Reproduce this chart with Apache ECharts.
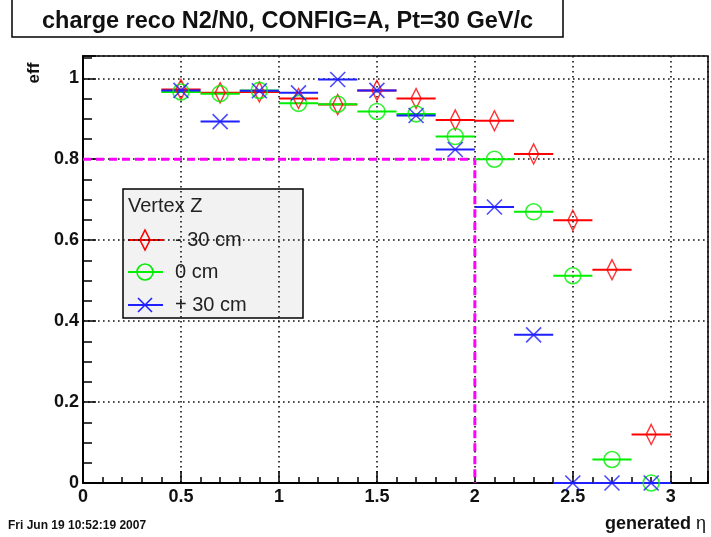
<!DOCTYPE html>
<html>
<head>
<meta charset="utf-8">
<script src="https://cdn.jsdelivr.net/npm/echarts@6/dist/echarts.min.js"></script>
<style>
  html, body { margin: 0; padding: 0; background: #fff; }
  #chart { width: 711px; height: 537px; }
</style>
</head>
<body>
<div id="chart"></div>
<script>
// bin centres in generated eta, bins are 0.2 wide
const etaBins = [0.5, 0.7, 0.9, 1.1, 1.3, 1.5, 1.7, 1.9, 2.1, 2.3, 2.5, 2.7, 2.9];
const binHalfWidth = 0.1;

// efficiency per vertex z position
const effMinus30 = [0.972, 0.964, 0.966, 0.950, 0.935, 0.970, 0.950, 0.897, 0.895, 0.813, 0.649, 0.527, 0.120];
const effZero    = [0.966, 0.962, 0.970, 0.938, 0.936, 0.918, 0.912, 0.856, 0.800, 0.670, 0.512, 0.058, 0.000];
const effPlus30  = [0.970, 0.893, 0.969, 0.964, 0.997, 0.970, 0.908, 0.824, 0.682, 0.366, 0.000, 0.000, 0.000];

// reference cut lines (eff = 0.8 up to eta = 2)
const cutLine = [[0, 0.8], [2, 0.8], [2, 0]];

const xTicks = [0, 0.5, 1, 1.5, 2, 2.5, 3];
const yTicks = [0, 0.2, 0.4, 0.6, 0.8, 1];

const RED = '#ff0000', GREEN = '#00ee00', BLUE = '#1f1fff';
const FONT = '"Liberation Sans", Arial, Helvetica, sans-serif';

function pairs(values) {
    return etaBins.map(function (x, i) { return [x, values[i]]; });
}

function isTick(list, v) {
    return list.some(function (t) { return Math.abs(t - v) < 1e-6; });
}

function errorBars(name, values, color) {
    return {
        name: name,
        type: 'custom',
        clip: false,
        z: 3,
        data: pairs(values),
        renderItem: function (params, api) {
            const x = api.value(0), y = api.value(1);
            const a = api.coord([x - binHalfWidth, y]);
            const b = api.coord([x + binHalfWidth, y]);
            return {
                type: 'line',
                shape: { x1: a[0], y1: a[1], x2: b[0], y2: b[1] },
                style: { stroke: color, lineWidth: 2 }
            };
        }
    };
}

function markers(name, values, color, symbol, size) {
    return {
        name: name,
        type: 'scatter',
        clip: false,
        z: 4,
        symbol: symbol,
        symbolSize: size,
        data: pairs(values),
        itemStyle: { color: 'rgba(0,0,0,0)', borderColor: color, borderWidth: 1.6 },
        emphasis: { disabled: true }
    };
}

const diamond = 'path://M5,0 L10,10 L5,20 L0,10 Z';
const cross = 'path://M0,0 L10,10 M10,0 L0,10';

const chart = echarts.init(document.getElementById('chart'));

const dotted = { show: true, lineStyle: { color: '#111', width: 1.6, type: [1.6, 3.4] } };

const option = {
    animation: false,
    backgroundColor: '#fff',
    grid: { left: 83, right: 3, top: 56, bottom: 54, show: true, borderColor: '#000', borderWidth: 1.5, backgroundColor: 'transparent' },
    xAxis: [{
        type: 'value', min: 0, max: 3.19, interval: 0.5, position: 'bottom',
        axisLine: { show: true, onZero: false, lineStyle: { color: '#000', width: 2 } },
        axisTick: { show: true, inside: true, length: 12, lineStyle: { color: '#000', width: 1.5 } },
        axisLabel: {
            margin: 5, color: '#111', fontFamily: FONT, fontWeight: 'bold', fontSize: 18,
            formatter: function (v) { return isTick(xTicks, v) ? String(v) : ''; }
        },
        splitLine: dotted
    }, {
        type: 'value', min: 0, max: 3.19, interval: 0.1, position: 'bottom',
        axisLine: { show: false },
        axisTick: { show: true, inside: true, length: 6, lineStyle: { color: '#000', width: 1.5 } },
        axisLabel: { show: false },
        splitLine: { show: false }
    }],
    yAxis: [{
        type: 'value', min: 0, max: 1.055, interval: 0.2, position: 'left',
        axisLine: { show: true, onZero: false, lineStyle: { color: '#000', width: 2 } },
        axisTick: { show: true, inside: true, length: 13, lineStyle: { color: '#000', width: 1.5 } },
        axisLabel: {
            margin: 4, color: '#111', fontFamily: FONT, fontWeight: 'bold', fontSize: 18,
            formatter: function (v) { return isTick(yTicks, v) ? String(v) : ''; }
        },
        splitLine: dotted
    }, {
        type: 'value', min: 0, max: 1.055, interval: 0.05, position: 'left',
        axisLine: { show: false },
        axisTick: { show: true, inside: true, length: 9, lineStyle: { color: '#000', width: 1.5 } },
        axisLabel: { show: false },
        splitLine: { show: false }
    }],
    title: {
        text: 'charge reco N2/N0, CONFIG=A, Pt=30 GeV/c',
        left: 37, top: 5,
        textStyle: { fontFamily: FONT, fontWeight: 'bold', fontSize: 23.5, color: '#111' }
    },
    series: [
        {
            type: 'line', data: cutLine, symbol: 'none', z: 2, clip: false,
            lineStyle: { color: '#ff00ff', width: 3, type: [8, 5] }
        },
        errorBars('- 30 cm', effMinus30, RED),
        markers('- 30 cm', effMinus30, RED, diamond, [10, 20]),
        errorBars('0 cm', effZero, GREEN),
        markers('0 cm', effZero, GREEN, 'circle', 16),
        errorBars('+ 30 cm', effPlus30, BLUE),
        markers('+ 30 cm', effPlus30, BLUE, cross, 15)
    ],
    graphic: [
        // title pave
        { type: 'rect', shape: { x: 12, y: -4, width: 551, height: 41 }, style: { fill: 'none', stroke: '#000', lineWidth: 1.5 } },
        // axis titles
        { type: 'text', x: 34, y: 73, rotation: Math.PI / 2, style: { text: 'eff', fontFamily: FONT, fontWeight: 'bold', fontSize: 17, fill: '#111', align: 'center', verticalAlign: 'middle' } },
        { type: 'text', x: 706, y: 524, style: {
            text: '{a|generated}{b| η}', align: 'right', verticalAlign: 'middle',
            rich: { a: { fontFamily: FONT, fontWeight: 'bold', fontSize: 18, fill: '#111' }, b: { fontFamily: FONT, fontSize: 18, fill: '#111' } }
        } },
        { type: 'text', x: 8, y: 526, style: { text: 'Fri Jun 19 10:52:19 2007', fontFamily: FONT, fontWeight: 'bold', fontSize: 12, fill: '#111', verticalAlign: 'middle' } },
        // legend pave
        {
            type: 'group', x: 123, y: 189,
            children: [
                { type: 'rect', shape: { x: 0, y: 0, width: 180, height: 129 }, style: { fill: '#f2f2f2', stroke: '#000', lineWidth: 1.5 } },
                { type: 'text', x: 5, y: 17, style: { text: 'Vertex Z', fontFamily: FONT, fontSize: 20, fill: '#222', verticalAlign: 'middle' } },
                { type: 'line', shape: { x1: 5, y1: 51, x2: 40, y2: 51 }, style: { stroke: RED, lineWidth: 2 } },
                { type: 'polygon', shape: { points: [[22, 41], [27, 51], [22, 61], [17, 51]] }, style: { fill: 'none', stroke: RED, lineWidth: 1.6 } },
                { type: 'text', x: 52, y: 51, style: { text: '- 30 cm', fontFamily: FONT, fontSize: 20, fill: '#222', verticalAlign: 'middle' } },
                { type: 'line', shape: { x1: 5, y1: 83, x2: 40, y2: 83 }, style: { stroke: GREEN, lineWidth: 2 } },
                { type: 'circle', shape: { cx: 22, cy: 83, r: 8 }, style: { fill: 'none', stroke: GREEN, lineWidth: 1.6 } },
                { type: 'text', x: 52, y: 83, style: { text: '0 cm', fontFamily: FONT, fontSize: 20, fill: '#222', verticalAlign: 'middle' } },
                { type: 'line', shape: { x1: 5, y1: 116, x2: 40, y2: 116 }, style: { stroke: BLUE, lineWidth: 2 } },
                { type: 'polyline', shape: { points: [[15, 109], [29, 123]] }, style: { stroke: BLUE, lineWidth: 1.6 } },
                { type: 'polyline', shape: { points: [[29, 109], [15, 123]] }, style: { stroke: BLUE, lineWidth: 1.6 } },
                { type: 'text', x: 52, y: 116, style: { text: '+ 30 cm', fontFamily: FONT, fontSize: 20, fill: '#222', verticalAlign: 'middle' } }
            ]
        }
    ]
};

chart.setOption(option);

window.onresize = function () {
    chart.resize();
};
</script>
</body>
</html>
